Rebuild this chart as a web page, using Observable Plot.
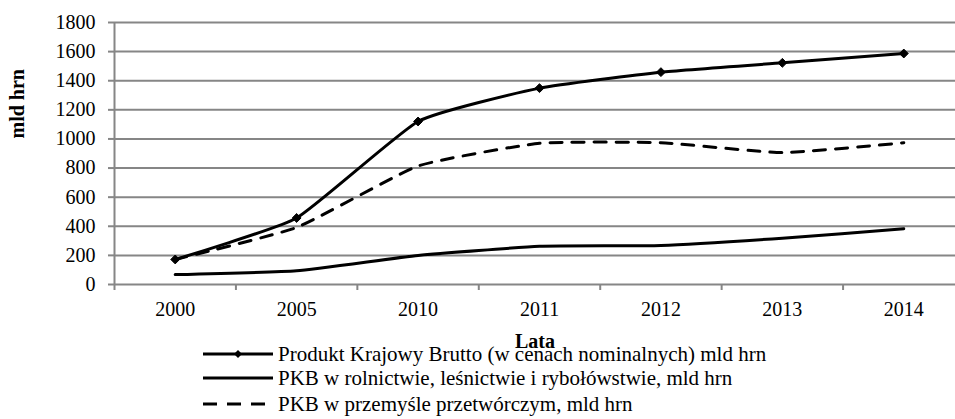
<!DOCTYPE html>
<html>
<head>
<meta charset="utf-8">
<script src="https://cdn.jsdelivr.net/npm/d3@7"></script>
<script src="https://cdn.jsdelivr.net/npm/@observablehq/plot@0.6"></script>
<style>
  html, body { margin: 0; padding: 0; background: #fff; }
  #wrap { position: relative; width: 955px; height: 419px; overflow: hidden; font-family: "Liberation Serif", "Times New Roman", serif; }
  #legend { position: absolute; left: 0; top: 341px; width: 955px; }
  .row { position: absolute; left: 200px; height: 26px; display: flex; align-items: center; font-size: 21px; color: #000; white-space: nowrap; }
  .row svg { margin-right: 4px; }
</style>
</head>
<body>
<div id="wrap"></div>
<script>
const years = ["2000", "2005", "2010", "2011", "2012", "2013", "2014"];
const gdp = [172, 457, 1120, 1349, 1459, 1523, 1587];
const agri = [68, 95, 200, 262, 268, 318, 383];
const manuf = [172, 392, 814, 970, 974, 906, 974];
const yTicks = [0, 200, 400, 600, 800, 1000, 1200, 1400, 1600, 1800];
const yTitle = "mld hrn";
const xTitle = "Lata";
const seriesNames = [
  "Produkt Krajowy Brutto (w cenach nominalnych) mld hrn",
  "PKB w rolnictwie, leśnictwie i rybołówstwie, mld hrn",
  "PKB w przemyśle przetwórczym, mld hrn"
];

const serif = '"Liberation Serif", "Times New Roman", serif';
const idx = years.map((_, i) => i);
const boundaries = d3.range(years.length + 1).map(i => i - 0.5);
const rows = (vals, s) => vals.map((v, i) => ({i, v, s}));
const gdpRows = rows(gdp, 0), agriRows = rows(agri, 1), manufRows = rows(manuf, 2);

const grid = "#868686";
const curve = {curve: "cardinal", tension: 0.55};
const chart = Plot.plot({
  width: 955,
  height: 419,
  marginLeft: 114,
  marginRight: 0,
  marginTop: 22,
  marginBottom: 135,
  style: {fontFamily: serif, fontSize: "20px", color: "#000", background: "#fff"},
  x: {type: "linear", domain: [-0.5, years.length - 0.5], range: [114, 964]},
  y: {domain: [0, 1800]},
  marks: [
    Plot.gridY(yTicks, {stroke: grid, strokeOpacity: 1, strokeWidth: 2}),
    Plot.ruleX([-0.5], {stroke: grid, strokeWidth: 2}),
    Plot.axisY(yTicks, {tickSize: 6, tickPadding: 13, stroke: grid, strokeWidth: 2, fill: "#000", fontSize: 20, label: null, tickFormat: d3.format("d")}),
    Plot.text([yTitle], {text: d => d, frameAnchor: "left", rotate: -90, dx: -97, dy: -15, fontWeight: "bold", fontSize: 20, fill: "#000"}),
    Plot.axisX(boundaries, {tickSize: 6, stroke: grid, strokeWidth: 2, text: null, label: null}),
    Plot.axisX(idx, {tickSize: 0, tickPadding: 17, tickFormat: i => years[i], fontSize: 20, fill: "#000", label: null}),
    Plot.axisX({ticks: [], label: xTitle, labelAnchor: "center", labelOffset: 63, labelArrow: false, fontWeight: "bold", fontSize: 20, tickSize: 0}),
    Plot.line(agriRows, {x: "i", y: "v", stroke: "#000", strokeWidth: 3, ...curve}),
    Plot.line(manufRows, {x: "i", y: "v", stroke: "#000", strokeWidth: 3, strokeDasharray: "12,10", ...curve}),
    Plot.line(gdpRows, {x: "i", y: "v", stroke: "#000", strokeWidth: 3, ...curve}),
    Plot.dot(gdpRows, {x: "i", y: "v", symbol: "diamond2", r: 4, fill: "#000", stroke: "#000", strokeWidth: 1})
  ]
});
const wrap = document.getElementById("wrap");
wrap.appendChild(chart);

const legend = document.createElement("div");
legend.id = "legend";
const swatches = [
  '<svg width="74" height="12"><line x1="3" y1="6" x2="73" y2="6" stroke="#000" stroke-width="3"/><path d="M38,2 L42,6 L38,10 L34,6 Z" fill="#000"/></svg>',
  '<svg width="74" height="12"><line x1="3" y1="6" x2="73" y2="6" stroke="#000" stroke-width="3"/></svg>',
  '<svg width="74" height="12"><line x1="3" y1="6" x2="73" y2="6" stroke="#000" stroke-width="3" stroke-dasharray="14,10"/></svg>'
];
const tops = [0, 24, 50];
seriesNames.forEach((name, k) => {
  const r = document.createElement("div");
  r.className = "row";
  r.style.top = tops[k] + "px";
  r.innerHTML = swatches[k] + "<span>" + name + "</span>";
  legend.appendChild(r);
});
wrap.appendChild(legend);
</script>
</body>
</html>
